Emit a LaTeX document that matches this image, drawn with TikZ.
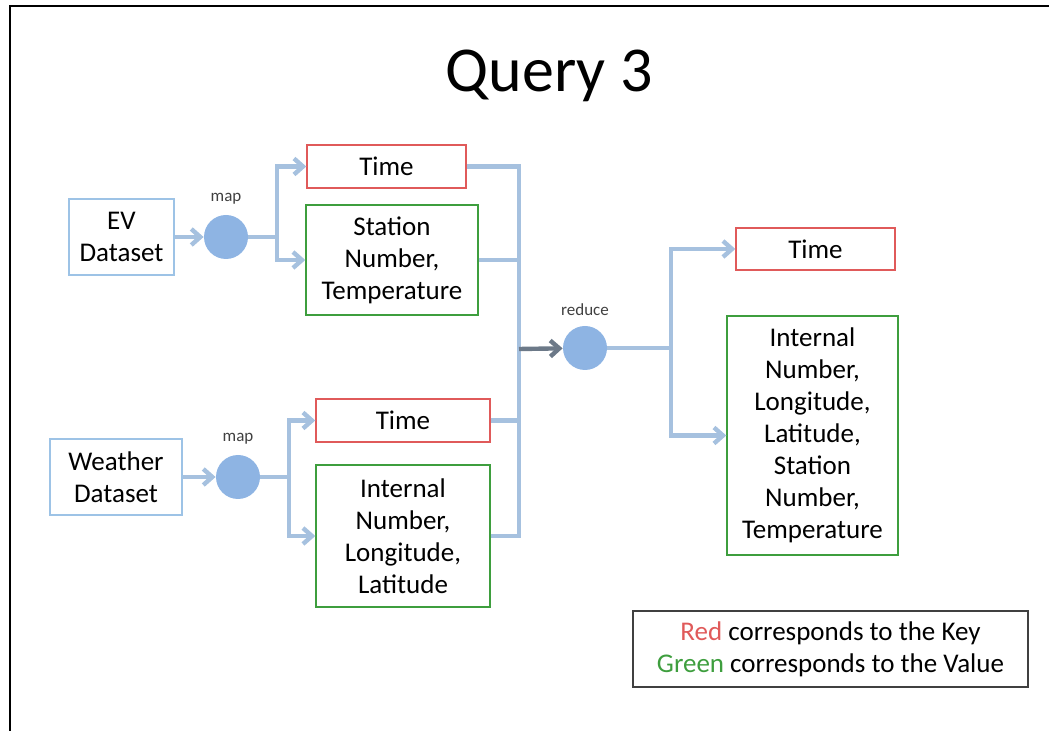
\documentclass[tikz,border=0pt]{standalone}
\usepackage{fontspec}
\setmainfont{Carlito}
\usepackage{tikz}
\usetikzlibrary{arrows.meta,positioning}
\definecolor{flowblue}{HTML}{A6C1DF}
\definecolor{dotblue}{HTML}{8EB4E3}
\definecolor{edgeblue}{HTML}{9DC3E6}
\definecolor{keyred}{HTML}{E05A5A}
\definecolor{valgreen}{HTML}{3E9E3E}

\begin{document}
\begin{tikzpicture}[x=0.5pt,y=-0.5pt,
  font=\fontsize{13.5}{16}\selectfont,
  srcbox/.style={draw=edgeblue,line width=0.7pt,align=center,inner sep=0pt},
  keybox/.style={draw=keyred,line width=0.7pt,align=center,inner sep=0pt},
  valbox/.style={draw=valgreen,line width=0.7pt,align=center,inner sep=0pt},
  dot/.style={circle,fill=dotblue,minimum size=22pt,inner sep=0pt},
  lbl/.style={font=\fontsize{8.5}{9}\selectfont,text=black!75},
  flow/.style={draw=flowblue,line width=2.2pt},
  feed/.style={flow,-{Straight Barb[length=4.5pt,width=8pt]}}]
\useasboundingbox (0,0) rectangle (1049,731);
\draw[line width=1.2pt] (10,731)--(10,6)--(1049,6);
\node (title) at (549,76) {\fontsize{32}{38}\selectfont Query 3};

\node[srcbox,minimum width=52.5pt,minimum height=38pt] (ev) at (121.5,237) {EV\\Dataset};
\node[dot] (map1) at (226,237) {};
\node[lbl,above=1.5pt of map1] (maplbl1) {map};
\coordinate (j1) at (277,237);
\node[keybox,minimum width=79.5pt,minimum height=21.5pt] (time1) at (386.5,166.5) {Time};
\node[valbox,minimum width=86pt,minimum height=55pt] (stat) at (392,260) {Station\\Number,\\Temperature};

\node[srcbox,minimum width=66pt,minimum height=38pt] (weather) at (116,477) {Weather\\Dataset};
\node[dot] (map2) at (238,477) {};
\node[lbl,above=1.5pt of map2] (maplbl2) {map};
\coordinate (j2) at (289,477);
\node[keybox,minimum width=87pt,minimum height=21.5pt] (time2) at (403,420.5) {Time};
\node[valbox,minimum width=87pt,minimum height=71pt] (intl) at (403,536) {Internal\\Number,\\Longitude,\\Latitude};

\coordinate (bus) at (519,349);
\node[dot] (reduce) at (585,348) {};
\node[lbl,above=1.5pt of reduce] (redlbl) {reduce};
\coordinate (j3) at (671,348);
\node[keybox,minimum width=79.5pt,minimum height=21pt] (time3) at (815.5,249) {Time};
\node[valbox,minimum width=85.5pt,minimum height=119.5pt] (outv) at (812.5,435.5) {Internal\\Number,\\Longitude,\\Latitude,\\Station\\Number,\\Temperature};

\node[draw=black!75,line width=0.7pt,minimum width=197.5pt,minimum height=38pt,align=center,inner sep=0pt] (legend) at (830.5,649)
  {\textcolor{keyred}{Red} corresponds to the Key\\\textcolor{valgreen}{Green} corresponds to the Value};

\draw[feed] (ev)--(map1);
\draw[flow] (map1)--(j1);
\draw[feed] (j1)|-(time1);
\draw[feed] (j1)|-(stat);
\draw[feed] (weather)--(map2);
\draw[flow] (map2)--(j2);
\draw[feed] (j2)|-(time2);
\draw[feed] (j2)|-(intl);
\foreach \n in {time1,stat,time2,intl}
 {\draw[flow] (\n)-|(bus);}
\draw[feed,draw=flowblue!55!black!90] (bus)--(reduce);
\draw[flow] (reduce)--(j3);
\draw[feed] (j3)|-(time3);
\draw[feed] (j3)|-(outv);
\end{tikzpicture}
\end{document}
